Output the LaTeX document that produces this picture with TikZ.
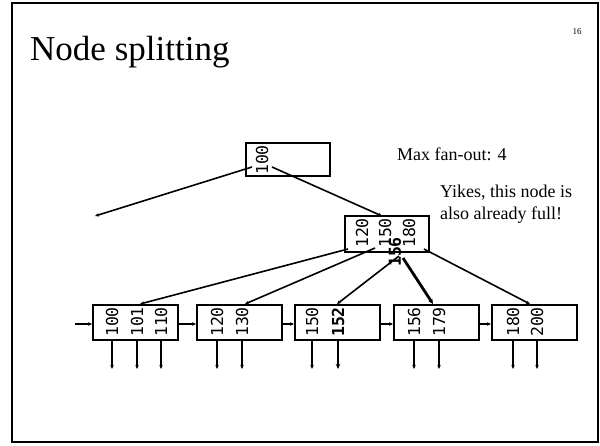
\documentclass[tikz,border=0pt]{standalone}
\usepackage{fontspec}
\setmainfont{Liberation Serif}
\setmonofont{DejaVu Sans Mono}
\usetikzlibrary{arrows.meta}
\begin{document}
\begin{tikzpicture}[x=1pt,y=-1pt,
  frame/.style={draw=black,line width=1.6pt},
  blockbox/.style={draw=black,line width=1.9pt,minimum width=85pt,minimum height=35pt,inner sep=0pt},
  key/.style={rotate=90,inner sep=0pt,font=\ttfamily\fontsize{16.5}{16.5}\selectfont},
  newkey/.style={key,font=\ttfamily\bfseries\fontsize{16.5}{16.5}\selectfont},
  ptr/.style={line width=1.6pt,-{Stealth[length=4pt,width=3.5pt]}},
  newptr/.style={line width=2.8pt,-{Stealth[length=5pt,width=4.5pt]}},
  note/.style={anchor=base west,inner sep=0pt,font=\fontsize{18}{22}\selectfont,align=left}]

\useasboundingbox (0,0) rectangle (600,445);
\draw[frame] (12,3) rectangle (598,442);

% title and page number
\node[anchor=base west,inner sep=0pt,font=\fontsize{35}{35}\selectfont] (title) at (30,60) {Node splitting};
\node[anchor=base,inner sep=0pt,font=\fontsize{9}{9}\selectfont] (pageno) at (577,34) {16};

% remarks
\node[note] (fanout) at (397,160) {Max fan-out: 4};
\node[note,anchor=north west] (yikes) at (440,185) {Yikes, this node is\\also already full!};

% root
\node[blockbox,minimum width=84pt,minimum height=33pt] (root) at (288,159.5) {};
\node[key] (r100) at (262,160) {100};

% inner node
\node[blockbox,minimum width=84pt,minimum height=36pt] (mid) at (387,234) {};
\node[key] (m120) at (362,233) {120};
\node[key] (m150) at (385,233) {150};
\node[key] (m180) at (409,233) {180};
\node[newkey] (m156) at (395,252) {156};

% leaves
\node[blockbox] (leafA) at (135.5,322.5) {};
\node[blockbox] (leafB) at (239.5,322.5) {};
\node[blockbox] (leafC) at (337.5,322.5) {};
\node[blockbox] (leafD) at (436.5,322.5) {};
\node[blockbox] (leafE) at (534.5,322.5) {};

\node[key] (a100) at (112,322) {100};
\node[key] (a101) at (137,322) {101};
\node[key] (a110) at (161,322) {110};
\node[key] (b120) at (217,322) {120};
\node[key] (b130) at (242,322) {130};
\node[key] (c150) at (312,322) {150};
\node[newkey] (c152) at (338,322) {152};
\node[key] (d156) at (414,322) {156};
\node[key] (d179) at (439,322) {179};
\node[key] (e180) at (513,322) {180};
\node[key] (e200) at (537,322) {200};

% pointer anchors
\coordinate (rp0) at (252,167);
\coordinate (rp1) at (272,167);
\coordinate (lost) at (95,216);
\coordinate (midtop) at (382,216);

\coordinate (mp0) at (348,249);
\coordinate (mp1) at (375,248);
\coordinate (mp2) at (399,256);
\coordinate (mp3) at (403,258);
\coordinate (mp4) at (424,249);

\coordinate (ta) at (140,304);
\coordinate (tb) at (245,304);
\coordinate (tc) at (337,304);
\coordinate (td) at (433,304);
\coordinate (te) at (530,304);

% root pointers
\draw[ptr] (rp0) -- (lost);
\draw[ptr] (rp1) -- (midtop);

% inner node pointers
\draw[ptr] (mp0) -- (ta);
\draw[ptr] (mp1) -- (tb);
\draw[ptr] (mp2) -- (tc);
\draw[newptr] (mp3) -- (td);
\draw[ptr] (mp4) -- (te);

% leaf chain
\coordinate (chainin) at (75,324);
\draw[ptr] (chainin) -- (leafA.west |- chainin);
\draw[ptr] (leafA.east |- chainin) -- (leafB.west |- chainin);
\draw[ptr] (leafB.east |- chainin) -- (leafC.west |- chainin);
\draw[ptr] (leafC.east |- chainin) -- (leafD.west |- chainin);
\draw[ptr] (leafD.east |- chainin) -- (leafE.west |- chainin);

% record pointers
\foreach \k in {a100,a101,a110,b120,b130,c150,d156,d179,e180,e200}{
  \draw[ptr] (\k |- leafA.south) -- ++(0,28);
}
\draw[newptr] (c152 |- leafA.south) -- ++(0,28);
\end{tikzpicture}
\end{document}
